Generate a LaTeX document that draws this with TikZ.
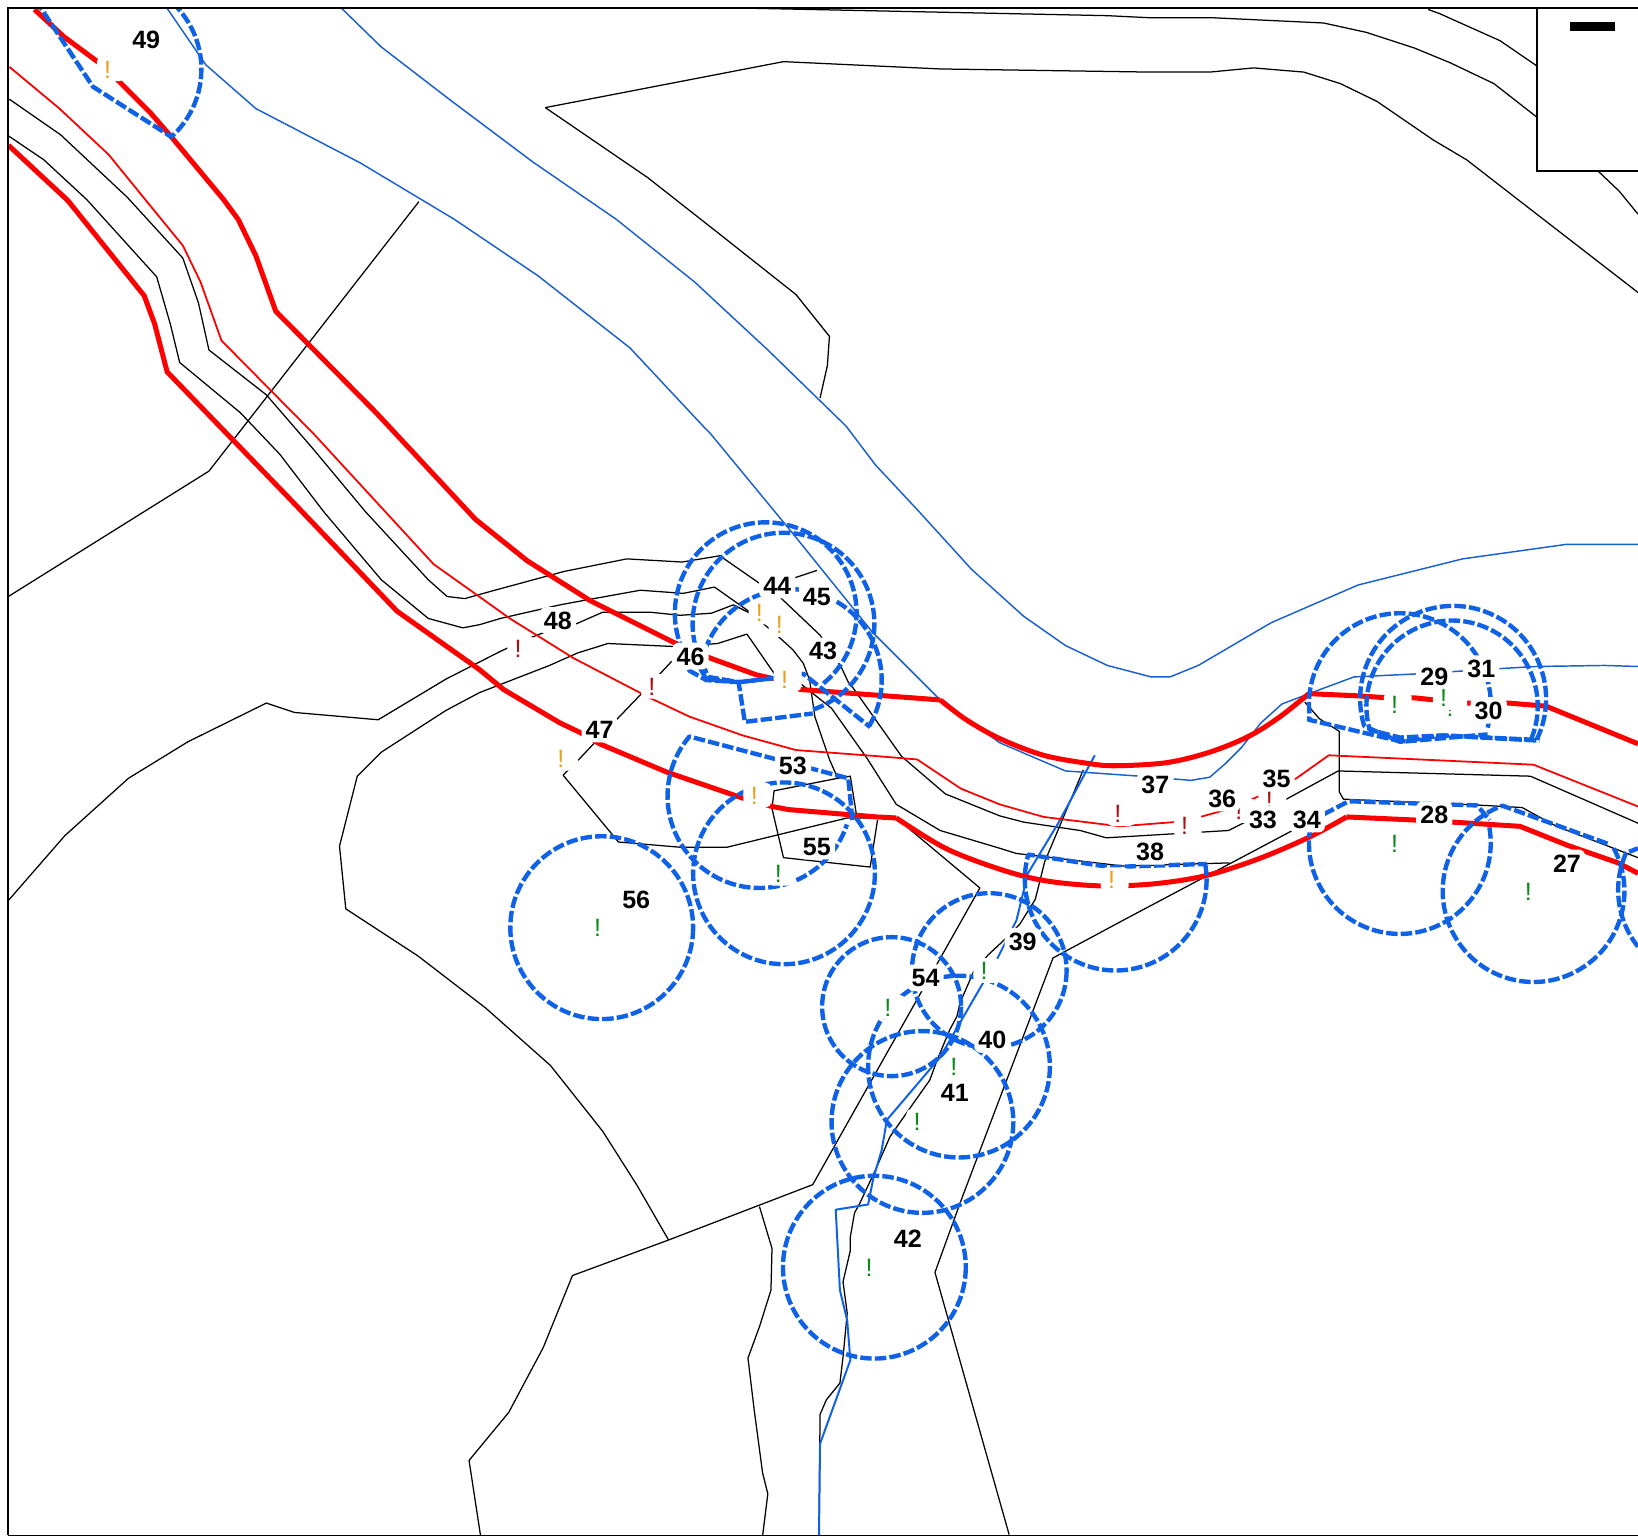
\documentclass[tikz,border=0pt]{standalone}
\usepackage{fontspec}
\setmainfont{Liberation Sans}
\definecolor{dashblue}{HTML}{0F62E6}
\definecolor{thinblue}{HTML}{1A5FCF}
\definecolor{roadred}{HTML}{FF0000}
\definecolor{warnorange}{HTML}{E8A11C}
\definecolor{warnred}{HTML}{A80F0F}
\definecolor{warngreen}{HTML}{0B8A1B}
\tikzset{
  road/.style={draw=black,line width=1.2pt,line join=round},
  bluethin/.style={draw=thinblue,line width=1.4pt,line join=round},
  bluewide/.style={draw=dashblue,line width=1.9pt,line join=round},
  redthick/.style={draw=roadred,line width=4.8pt,line join=round},
  redthin/.style={draw=roadred,line width=1.7pt,line join=round},
  zone/.style={draw=dashblue,line width=4.2pt,dash pattern=on 11pt off 3pt,line join=round},
  num/.style={fill=white,rounded corners=6pt,inner sep=4pt,text=black,font=\fontsize{24}{24}\selectfont\bfseries,text height=17.5pt,text depth=0pt},
  bang/.style={xshift=3pt,fill=white,rounded corners=5pt,inner xsep=7pt,inner ysep=3pt,font=\fontsize{24}{24}\selectfont,text height=17.5pt,text depth=0pt},
  warno/.style={bang,text=warnorange},
  warnr/.style={bang,text=warnred},
  warng/.style={bang,text=warngreen}
}
\newcommand{\mybang}{!\kern6pt}
\begin{document}
\begin{tikzpicture}[x=1pt,y=1pt,yscale=-1]
\useasboundingbox (0,0) rectangle (1568,1470.4);
\begin{scope}
\clip (8,8) rectangle (1568,1469);
% black roads
\draw[road] (724,8) -- (1060,15) -- (1101,17) -- (1161,17) -- (1267,22) -- (1308,31) -- (1354,46) -- (1388,60) -- (1430,80) -- (1471,112);
\draw[road] (1367,9) -- (1378,13) -- (1436,39) -- (1471,63);
\draw[road] (522,103) -- (750,59) -- (900,66) -- (1101,69) -- (1158,69) -- (1200,65) -- (1248,69) -- (1283,80) -- (1318,97) -- (1372,134) -- (1404,153) -- (1453,191) -- (1568,280);
\draw[road] (522,103) -- (620,170) -- (690,225) -- (762,282) -- (794,322) -- (792,350) -- (785,381);
\draw[road] (1530,164) -- (1550,183) -- (1568,205);
\draw[road] (401,193) -- (200,451) -- (8,571);
\draw[road] (9,95) -- (58,129) -- (122,189) -- (175,247) -- (190,290) -- (200,335) -- (255,378) -- (300,430) -- (350,490) -- (410,555) -- (428,571) -- (445,573) -- (470,566) -- (540,547) -- (600,535) -- (653,538) -- (689,532) -- (725,557) -- (745,570);
\draw[road] (745,560) -- (761,553) -- (782,546);
\draw[road] (8,130) -- (42,153) -- (83,191) -- (150,265) -- (163,310) -- (172,347) -- (230,395) -- (268,435) -- (310,490) -- (365,555) -- (410,592) -- (443,601) -- (459,598) -- (479,592) -- (536,579) -- (563,574) -- (613,565) -- (654,568) -- (684,562) -- (718,586) -- (748,612) -- (759,622) -- (769,635) -- (775,651) -- (780,686) -- (794,727) -- (802,745) -- (741,757) -- (739,774) -- (750,821) -- (833,830) -- (840,785);
\draw[road] (802,745) -- (814,743) -- (820,781);
\draw[road] (8,862) -- (62,800) -- (123,745) -- (180,710) -- (255,673) -- (282,682) -- (362,689) -- (427,650) -- (480,623) -- (509,610) -- (522,605) -- (552,597) -- (577,586) -- (622,586) -- (651,589) -- (681,587) -- (702,579) -- (718,587);
\draw[road] (640,1187) -- (610,1135) -- (577,1083) -- (527,1020) -- (465,965) -- (400,915) -- (331,870) -- (325,810) -- (342,743) -- (365,720) -- (427,680) -- (459,663) -- (526,637) -- (553,625) -- (582,616) -- (648,619) -- (687,616) -- (715,607) -- (742,646);
\draw[road] (643,633) -- (616,662) -- (592,687) -- (555,726) -- (539,742) -- (592,806) -- (651,811) -- (696,811) -- (811,783) -- (858,783) -- (938,850) -- (778,1134) -- (640,1187) -- (548,1221) -- (520,1290) -- (487,1352) -- (449,1398) -- (460,1470);
\draw[road] (727,1155) -- (739,1195) -- (738,1235) -- (727,1270) -- (716,1300) -- (722,1350) -- (730,1410) -- (735,1430) -- (730,1470);
\draw[road] (746,571) -- (785,608) -- (806,640) -- (812,653) -- (817,659) -- (863,724) -- (905,760) -- (957,781) -- (980,787) -- (1034,795) -- (1059,802) -- (1126,798) -- (1176,795) -- (1192,787) -- (1235,763) -- (1281,738) -- (1465,743) -- (1568,788);
\draw[road] (767,655) -- (796,678) -- (830,726) -- (858,770) -- (900,795) -- (957,812) -- (973,817) -- (1075,829) -- (1177,826);
\draw[road] (1037,737) -- (1000,825) -- (991,861) -- (976,885) -- (960,901) -- (946,914) -- (932,930) -- (919,960) -- (916,973) -- (909,986) -- (897,1015) -- (890,1034) -- (873,1058) -- (852,1088) -- (838,1120) -- (823,1152) -- (818,1161) -- (814,1184) -- (814,1197) -- (807,1227) -- (811,1257) -- (807,1299) -- (804,1324) -- (791,1340) -- (785,1354) -- (784,1470);
\draw[road] (1241,793) -- (1075,881) -- (1008,917) -- (920,1149) -- (895,1218) -- (966,1469);
\draw[road] (1249,672) -- (1263,688) -- (1282,700) -- (1282,758) -- (1286,765) -- (1421,771) -- (1457,773) -- (1490,791) -- (1568,821);
% thin blue
\draw[bluethin] (160,8) -- (197,62) -- (245,104) -- (345,156) -- (435,210) -- (515,264) -- (603,333) -- (675,410) -- (680,415) -- (760,512) -- (835,605) -- (900,670) -- (957,711) -- (1020,738) -- (1091,743) -- (1140,747) -- (1158,744) -- (1173,731) -- (1188,716) -- (1207,692) -- (1227,674) -- (1253,664) -- (1296,648) -- (1358,645) -- (1436,640) -- (1470,638) -- (1536,637) -- (1568,638);
\draw[bluethin] (327,8) -- (365,45) -- (430,95) -- (510,155) -- (590,210) -- (665,270) -- (735,335) -- (810,408) -- (838,445) -- (880,490) -- (930,545) -- (980,590) -- (1020,618) -- (1060,637) -- (1102,648) -- (1120,648) -- (1147,637) -- (1217,596) -- (1300,560) -- (1400,535) -- (1500,521) -- (1568,521);
\draw[bluewide] (1048,723) -- (1013,788) -- (984,836) -- (973,881) -- (955,917) -- (941,941) -- (912,991) -- (900,1012) -- (849,1072) -- (844,1101) -- (836,1128) -- (831,1153) -- (800,1158) -- (804,1235) -- (811,1264) -- (814,1302) -- (785,1382) -- (784,1470);
% red roads
\draw[redthick] (33,9) -- (61,35) -- (96,61) -- (113,77) -- (144,108) -- (164,131) -- (214,191) -- (228,210) -- (245,245) -- (264,298) -- (360,395) -- (455,497) -- (505,537) -- (565,575) -- (645,615) -- (680,630) -- (724,646) -- (742,650) -- (766,660) -- (900,670);
\draw[redthick] plot[smooth,tension=0.55] coordinates {(900,670) (925,689) (957,707) (999,723) (1043,731) (1069,733) (1117,730) (1158,720) (1195,705) (1224,687) (1253,664)};
\draw[redthick] (1253,664) -- (1298,666) -- (1329,668) -- (1354,668) -- (1373,670) -- (1401,673) -- (1444,673) -- (1480,676) -- (1568,712);
\draw[redthick] (8,139) -- (65,192) -- (138,283) -- (148,310) -- (160,356) -- (275,475) -- (380,585) -- (459,641) -- (482,660) -- (536,692) -- (555,701) -- (574,712) -- (638,739) -- (711,764) -- (739,772) -- (755,775) -- (839,782) -- (858,783);
\draw[redthick] plot[smooth,tension=0.55] coordinates {(858,783) (905,812) (957,832) (1000,843) (1053,848) (1105,846) (1155,838) (1205,822) (1254,801) (1289,782)};
\draw[redthick] (1289,782) -- (1355,785) -- (1391,787) -- (1455,791) -- (1500,809) -- (1549,826) -- (1568,836);
\draw[redthin] (9,64) -- (57,104) -- (104,148) -- (139,191) -- (175,235) -- (192,270) -- (212,326) -- (300,415) -- (415,540) -- (460,572) -- (488,592) -- (549,630) -- (622,668) -- (660,686) -- (711,704) -- (762,718) -- (842,724) -- (878,727) -- (920,755) -- (957,770) -- (999,782) -- (1072,791) -- (1123,787) -- (1149,782) -- (1174,775) -- (1201,764) -- (1241,745) -- (1272,723) -- (1468,732) -- (1568,772);
% dashed zones
\draw[zone] (34,0) -- (89,83) -- (164,131) arc[start angle=48,end angle=-43,radius=87pt];
\draw[zone] (576,888) circle[radius=87.5pt];
\draw[zone] (750.5,836) circle[radius=87pt];
\draw[zone] (816,785) -- (812,745) -- (660,705) arc[start angle=220.4,end angle=18,radius=88pt];
\draw[zone] (1068,842) ++(-10:87pt) arc[start angle=-10,end angle=196,radius=87pt] -- (1062,830) -- (1155,827);
\draw[zone] (947,929) circle[radius=74pt];
\draw[zone] (853.5,963.6) circle[radius=66.5pt];
\draw[zone] (918,1021) circle[radius=87pt];
\draw[zone] (883,1074) circle[radius=87pt];
\draw[zone] (837,1213) circle[radius=87.5pt];
\draw[zone] (1340,807) ++(-10:87pt) arc[start angle=-10,end angle=192,radius=87pt] -- (1268,779) -- (1291,767) -- (1414,771) -- (1426,785);
\draw[zone] (1468,853) ++(-28:87pt) arc[start angle=-28,end angle=250,radius=87pt] -- (1540,808);
\draw[zone] (1636,852) ++(141.5:87pt) arc[start angle=141.5,end angle=204,radius=87pt] -- (1568,812);
\draw[zone] (1340,674) ++(15:87pt) arc[start angle=15,end angle=-187,radius=87pt] -- (1253,689) -- (1342,710) -- (1424,703);
\draw[zone] (1391,669) ++(26:89pt) arc[start angle=26,end angle=-197,radius=89pt] -- (1340,710) -- (1381,704) -- (1474,709);
\draw[zone] (1390,676) ++(23:82pt) arc[start angle=23,end angle=-196,radius=82pt] -- (1340,706) -- (1381,704) -- (1465,708);
\draw[zone] (733,587) ++(50.6:87pt) arc[start angle=50.6,end angle=-199,radius=87pt] -- (660,642) -- (676,651) -- (707,653) -- (742,649);
\draw[zone] (750,597) ++(71:87pt) arc[start angle=71,end angle=-210,radius=87pt] -- (678,648) -- (707,653) -- (713,691) -- (778,683);
\draw[zone] (757,651) ++(30.6:87pt) arc[start angle=30.6,end angle=-173,radius=87pt] -- (676,650) -- (707,653) -- (742,649) -- (769,645) -- (833,696);
% warnings
\node[warno] (w1) at (103,66) {\mybang};
\node[warno] (w2) at (537,726) {\mybang};
\node[warno] (w3) at (727,586) {\mybang};
\node[warno] (w4) at (746,598) {\mybang};
\node[warno] (w5) at (751,650) {\mybang};
\node[warno] (w6) at (722,761) {\mybang};
\node[warno] (w7) at (1064,842) {\mybang};
\node[warnr] (r1) at (496,621) {\mybang};
\node[warnr] (r2) at (624,657) {\mybang};
\node[warnr] (r3) at (1070,779) {\mybang};
\node[warnr] (r4) at (1134,790) {\mybang};
\node[warnr] (r5) at (1186,776) {\mybang};
\node[warnr] (r6) at (1215,765) {\mybang};
\node[warng] (g1) at (572,888) {\mybang};
\node[warng] (g2) at (745,836) {\mybang};
\node[warng] (g3) at (942,929) {\mybang};
\node[warng] (g4) at (850,964) {\mybang};
\node[warng] (g5) at (913,1021) {\mybang};
\node[warng] (g6) at (878,1073) {\mybang};
\node[warng] (g7) at (832,1213) {\mybang};
\node[warng] (g8) at (1335,807) {\mybang};
\node[warng] (g9) at (1463,853) {\mybang};
\node[warng] (g12) at (1388,677) {\mybang};
\node[warng] (g10) at (1335,674) {\mybang};
\node[warng] (g11) at (1382,668) {\mybang};
% numbers
\node[num] (n49) at (140,38) {49};
\node[num] (n56) at (609,861) {56};
\node[num] (n55) at (782,810) {55};
\node[num] (n53) at (759,733) {53};
\node[num] (n47) at (574,698) {47};
\node[num] (n48) at (534,594) {48};
\node[num] (n46) at (661,628) {46};
\node[num] (n44) at (744,560) {44};
\node[num] (n45) at (782,571) {45};
\node[num] (n43) at (788,623) {43};
\node[num] (n37) at (1106,751) {37};
\node[num] (n38) at (1101,815) {38};
\node[num] (n36) at (1170,764) {36};
\node[num] (n35) at (1222,745) {35};
\node[num] (n33) at (1209,784) {33};
\node[num] (n34) at (1251,784) {34};
\node[num] (n29) at (1373,647) {29};
\node[num] (n31) at (1418,640) {31};
\node[num] (n30) at (1425,680) {30};
\node[num] (n28) at (1373,780) {28};
\node[num] (n27) at (1500,826) {27};
\node[num] (n54) at (886,936) {54};
\node[num] (n39) at (979,901) {39};
\node[num] (n40) at (950,995) {40};
\node[num] (n41) at (914,1046) {41};
\node[num] (n42) at (869,1185) {42};
\end{scope}
% frame and legend box
\draw[black,line width=1.8pt] (8,1469.5) -- (8,8) -- (1568,8);
\draw[black,line width=1.2pt] (8,1469.5) -- (1568,1469.5);
\draw[black,line width=2pt,fill=white] (1580,8) -- (1471,8) -- (1471,164) -- (1580,164);
\fill[black] (1503,21) rectangle (1546,30);
\end{tikzpicture}
\end{document}
